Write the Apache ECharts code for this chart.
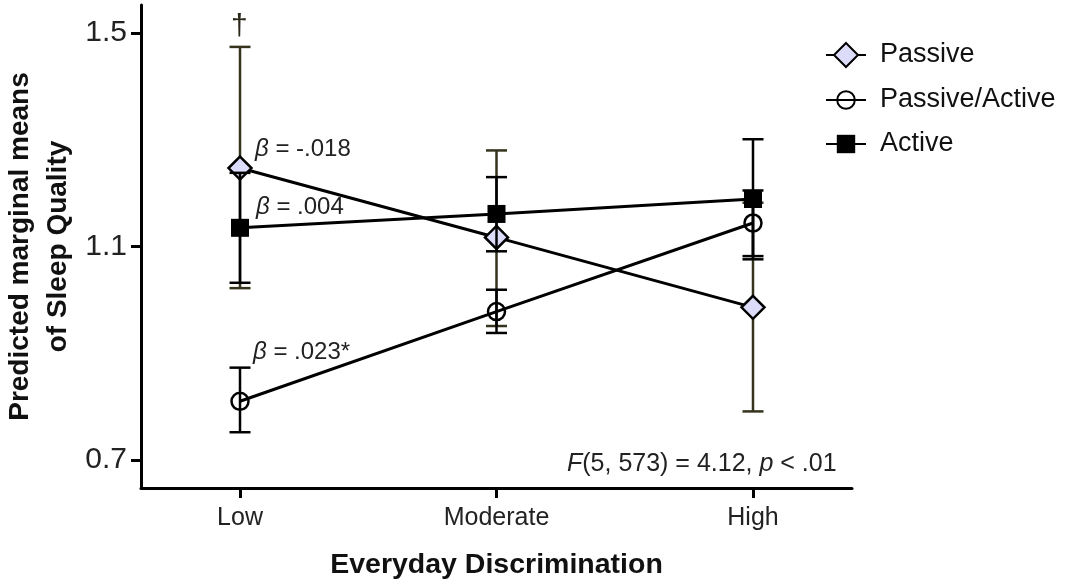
<!DOCTYPE html>
<html>
<head>
<meta charset="utf-8">
<script src="https://cdn.jsdelivr.net/npm/echarts@6/dist/echarts.min.js"></script>
<style>html,body{margin:0;padding:0;background:#fff;}#chart{width:1070px;height:584px;}</style>
</head>
<body>
<div id="chart"></div>
<script>
// ---- data ----
const categories = ['Low', 'Moderate', 'High'];
const yTicks = [0.7, 1.1, 1.5];

const passiveMean  = [1.247, 1.117, 0.986];
const passiveLow   = [1.022, 0.951, 0.791];
const passiveHigh  = [1.474, 1.280, 1.182];

const paMean  = [0.810, 0.978, 1.144];
const paLow   = [0.752, 0.938, 1.082];
const paHigh  = [0.873, 1.019, 1.205];

const activeMean = [1.135, 1.161, 1.189];
const activeLow  = [1.032, 1.091, 1.076];
const activeHigh = [1.238, 1.230, 1.301];

const FONT = '"Liberation Sans", Arial, sans-serif';
const OLIVE = '#35331c';

function pts(arr) { return arr.map((v, i) => [i, v]); }
function errs(lo, hi) { return lo.map((v, i) => [i, v, hi[i]]); }

function errSeries(name, lo, hi, color, z) {
  return {
    type: 'custom', name: name + '_err', z: z, silent: true,
    data: errs(lo, hi),
    renderItem: function (params, api) {
      const x = api.value(0);
      const a = api.coord([x, api.value(1)]);
      const b = api.coord([x, api.value(2)]);
      const hw = 10.5;
      const st = { stroke: color, lineWidth: 2.5 };
      return { type: 'group', children: [
        { type: 'line', shape: { x1: a[0], y1: a[1], x2: b[0], y2: b[1] }, style: st },
        { type: 'line', shape: { x1: a[0] - hw, y1: a[1], x2: a[0] + hw, y2: a[1] }, style: st },
        { type: 'line', shape: { x1: b[0] - hw, y1: b[1], x2: b[0] + hw, y2: b[1] }, style: st }
      ]};
    }
  };
}

const chart = echarts.init(document.getElementById('chart'));

const legendText = { fontFamily: FONT, fontSize: 27, color: '#111', lineHeight: 30, padding: [0, 0, 0, 9] };

const option = {
  animation: false,
  backgroundColor: '#fff',
  grid: { left: 141, right: 218, top: 5, bottom: 96, containLabel: false, outerBoundsMode: 'none' },
  legend: [
    { orient: 'vertical', left: 820, top: 35, itemWidth: 40, itemHeight: 30, data: ['Passive'], textStyle: legendText },
    { orient: 'vertical', left: 820, top: 80, itemWidth: 40, itemHeight: 22, data: ['Passive/Active'], textStyle: legendText },
    { orient: 'vertical', left: 820, top: 124, itemWidth: 40, itemHeight: 23, data: ['Active'], textStyle: legendText }
  ],
  xAxis: {
    type: 'value', min: -0.386, max: 2.386,
    name: 'Everyday Discrimination', nameLocation: 'middle', nameGap: 63, nameMoveOverlap: false,
    nameTextStyle: { fontFamily: FONT, fontSize: 28.5, fontWeight: 'bold', color: '#111' },
    axisLine: { show: true, onZero: false, lineStyle: { color: '#000', width: 3 } },
    axisTick: { show: true, customValues: [0, 1, 2], length: 10, lineStyle: { color: '#000', width: 3 } },
    axisLabel: { customValues: [0, 1, 2], formatter: v => categories[Math.round(v)], margin: 18,
      fontFamily: FONT, fontSize: 25, color: '#222' },
    splitLine: { show: false }
  },
  yAxis: {
    type: 'value', min: 0.6475, max: 1.5525,
    name: 'Predicted marginal means\nof Sleep Quality', nameLocation: 'middle', nameGap: 64, nameMoveOverlap: false,
    nameTextStyle: { fontFamily: FONT, fontSize: 28, fontWeight: 'bold', color: '#111', lineHeight: 38 },
    axisLine: { show: true, onZero: false, lineStyle: { color: '#000', width: 3 } },
    axisTick: { show: true, customValues: yTicks, length: 10, lineStyle: { color: '#000', width: 3 } },
    axisLabel: { customValues: yTicks, formatter: v => v.toFixed(1), margin: 14,
      fontFamily: FONT, fontSize: 30, color: '#222' },
    splitLine: { show: false }
  },
  series: [
    errSeries('Passive', passiveLow, passiveHigh, OLIVE, 1),
    { type: 'line', name: 'Passive', z: 2, data: pts(passiveMean), symbol: 'diamond', symbolSize: 23,
      lineStyle: { color: '#000', width: 3 },
      itemStyle: { color: '#dcdcfa', borderColor: '#000', borderWidth: 2.5 } },
    errSeries('Passive/Active', paLow, paHigh, '#000', 3),
    { type: 'line', name: 'Passive/Active', z: 4, data: pts(paMean), symbol: 'circle', symbolSize: 17,
      lineStyle: { color: '#000', width: 3 },
      itemStyle: { color: 'rgba(255,255,255,0)', borderColor: '#000', borderWidth: 2.5 } },
    errSeries('Active', activeLow, activeHigh, '#000', 5),
    { type: 'line', name: 'Active', z: 6, data: pts(activeMean), symbol: 'rect', symbolSize: 18,
      lineStyle: { color: '#000', width: 3 },
      itemStyle: { color: '#000', borderColor: '#000', borderWidth: 0 } }
  ],
  graphic: [
    { type: 'text', left: 231, top: 12, z: 10, style: { text: '†', fontFamily: FONT, fontSize: 30, fill: '#2a2618' } },
    { type: 'text', left: 255, top: 137, z: 10, style: { text: '{i|β} = -.018', fontFamily: FONT, fontSize: 24, fill: '#222',
      rich: { i: { fontStyle: 'italic', fontFamily: FONT, fontSize: 24, fill: '#222' } } } },
    { type: 'text', left: 256, top: 195, z: 10, style: { text: '{i|β} = .004', fontFamily: FONT, fontSize: 24, fill: '#222',
      rich: { i: { fontStyle: 'italic', fontFamily: FONT, fontSize: 24, fill: '#222' } } } },
    { type: 'text', left: 253, top: 340, z: 10, style: { text: '{i|β} = .023*', fontFamily: FONT, fontSize: 24, fill: '#222',
      rich: { i: { fontStyle: 'italic', fontFamily: FONT, fontSize: 24, fill: '#222' } } } },
    { type: 'text', left: 567, top: 452, z: 10, style: { text: '{i|F}(5, 573) = 4.12, {i|p} < .01', fontFamily: FONT, fontSize: 25, fill: '#222',
      rich: { i: { fontStyle: 'italic', fontFamily: FONT, fontSize: 25, fill: '#222' } } } }
  ]
};
chart.setOption(option);
</script>
</body>
</html>
